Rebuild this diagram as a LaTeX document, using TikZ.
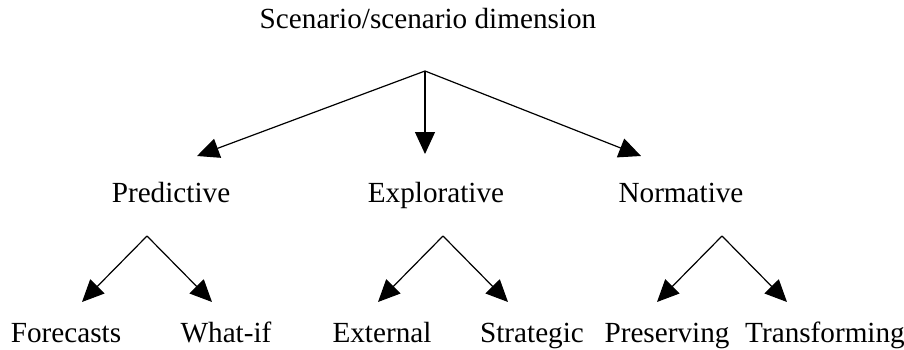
\documentclass[tikz,border=0pt]{standalone}
\usepackage{fontspec}
\setmainfont{Liberation Serif}
\usetikzlibrary{arrows.meta}
\begin{document}
\begin{tikzpicture}[x=1pt,y=-1pt,
  lbl/.style={anchor=base,inner sep=0pt,font=\fontsize{29.2}{31}\selectfont},
  arr/.style={line width=1.2pt,-{Triangle[length=22pt,width=20pt]}}]
\useasboundingbox (0,0) rectangle (904,349);
\node[lbl] (title) at (428,28) {Scenario/scenario dimension};
\node[lbl] (pred) at (171,202) {Predictive};
\node[lbl] (expl) at (436,202) {Explorative};
\node[lbl] (norm) at (681,202) {Normative};
\node[lbl] (fore) at (66,342) {Forecasts};
\node[lbl] (what) at (226,342) {What-if};
\node[lbl] (ext) at (382,342) {External};
\node[lbl] (strat) at (532,342) {Strategic};
\node[lbl] (pres) at (667,342) {Preserving};
\node[lbl] (trans) at (825,342) {Transforming};
\coordinate (a0) at (425,71);
\coordinate (t1) at (197,156);
\coordinate (t2) at (425,154);
\coordinate (t3) at (641,156);
\coordinate (ap) at (147,236);
\coordinate (ae) at (443,236);
\coordinate (an) at (722,236);
\coordinate (tf) at (82,302);
\coordinate (tw) at (212,302);
\coordinate (te) at (378,302);
\coordinate (ts) at (508,302);
\coordinate (tp) at (657,302);
\coordinate (tt) at (787,302);
\draw[arr] (a0) -- (t1);
\draw[arr] (a0) -- (t2);
\draw[arr] (a0) -- (t3);
\draw[arr] (ap) -- (tf);
\draw[arr] (ap) -- (tw);
\draw[arr] (ae) -- (te);
\draw[arr] (ae) -- (ts);
\draw[arr] (an) -- (tp);
\draw[arr] (an) -- (tt);
\end{tikzpicture}
\end{document}
